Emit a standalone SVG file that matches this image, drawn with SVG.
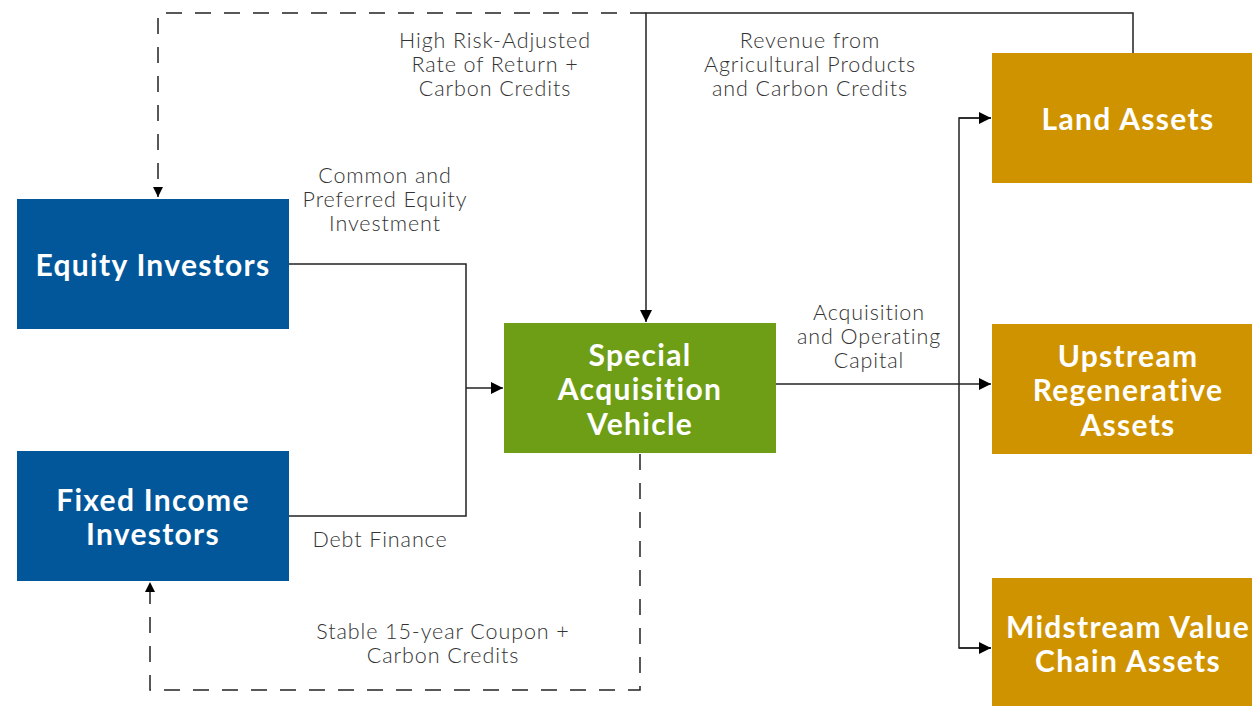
<svg xmlns="http://www.w3.org/2000/svg" width="1252" height="706" viewBox="0 0 1252 706">
<style>
.node text{font-family:Lato,"Open Sans","Liberation Sans",sans-serif;font-weight:700;font-size:30px;letter-spacing:1.3px;fill:#fff;text-anchor:middle}
.lbl{font-family:Lato,"Open Sans","Liberation Sans",sans-serif;font-weight:300;font-size:21.5px;letter-spacing:0.9px;fill:#333;text-anchor:middle}
.ln{fill:none;stroke:#222;stroke-width:1.5}
.dash{fill:none;stroke:#222;stroke-width:1.5;stroke-dasharray:16 13}
.blue{fill:#02579b}.green{fill:#6d9e16}.gold{fill:#d09300}
</style>
<defs>
<marker id="ah" viewBox="0 0 10 10" refX="10" refY="5" markerWidth="13" markerHeight="12" markerUnits="userSpaceOnUse" orient="auto"><path d="M0,0L10,5L0,10z" fill="#000"/></marker>
<marker id="ahs" viewBox="0 0 10 10" refX="10" refY="5" markerWidth="12" markerHeight="10" markerUnits="userSpaceOnUse" orient="auto"><path d="M0,0L10,5L0,10z" fill="#000"/></marker>
</defs>
<g id="connectors">
<polyline class="ln" points="289,264 466,264 466,516 289,516"/>
<line class="ln" x1="466" y1="388" x2="503" y2="388" marker-end="url(#ah)"/>
<polyline class="ln" points="1133,53 1133,13 646,13 646,322" marker-end="url(#ah)"/>
<polyline class="dash" points="646,13 158,13 158,197" marker-end="url(#ahs)"/>
<polyline class="dash" points="640,454 640,690 150,690 150,582" marker-end="url(#ahs)"/>
<line class="ln" x1="776" y1="384" x2="991" y2="384" marker-end="url(#ah)"/>
<polyline class="ln" points="991,118 959,118 959,648 991,648"/>
<line class="ln" x1="959" y1="118" x2="991" y2="118" marker-end="url(#ah)"/>
<line class="ln" x1="959" y1="648" x2="991" y2="648" marker-end="url(#ah)"/>
</g>
<g id="labels">
<text class="lbl" x="495" y="48">High Risk-Adjusted</text>
<text class="lbl" x="495" y="72">Rate of Return +</text>
<text class="lbl" x="495" y="96">Carbon Credits</text>
<text class="lbl" x="810" y="48">Revenue from</text>
<text class="lbl" x="810" y="72">Agricultural Products</text>
<text class="lbl" x="810" y="96">and Carbon Credits</text>
<text class="lbl" x="385" y="183">Common and</text>
<text class="lbl" x="385" y="207">Preferred Equity</text>
<text class="lbl" x="385" y="231">Investment</text>
<text class="lbl" x="380" y="547">Debt Finance</text>
<text class="lbl" x="443" y="639">Stable 15-year Coupon +</text>
<text class="lbl" x="443" y="663">Carbon Credits</text>
<text class="lbl" x="869" y="320">Acquisition</text>
<text class="lbl" x="869" y="344">and Operating</text>
<text class="lbl" x="869" y="368">Capital</text>
</g>
<g id="equity-investors" class="node"><rect class="blue" x="17" y="199" width="272" height="130"/><text x="153" y="276">Equity Investors</text></g>
<g id="fixed-income-investors" class="node"><rect class="blue" x="17" y="451" width="272" height="130"/><text x="153" y="511">Fixed Income</text><text x="153" y="545">Investors</text></g>
<g id="special-acquisition-vehicle" class="node"><rect class="green" x="504" y="323" width="272" height="130"/><text x="640" y="366">Special</text><text x="640" y="400">Acquisition</text><text x="640" y="435">Vehicle</text></g>
<g id="land-assets" class="node"><rect class="gold" x="992" y="53" width="260" height="130"/><text x="1128" y="130">Land Assets</text></g>
<g id="upstream-regenerative-assets" class="node"><rect class="gold" x="992" y="324" width="260" height="130"/><text x="1128" y="367">Upstream</text><text x="1128" y="401">Regenerative</text><text x="1128" y="436">Assets</text></g>
<g id="midstream-value-chain-assets" class="node"><rect class="gold" x="992" y="578" width="260" height="128"/><text x="1128" y="638">Midstream Value</text><text x="1128" y="672">Chain Assets</text></g>
</svg>
